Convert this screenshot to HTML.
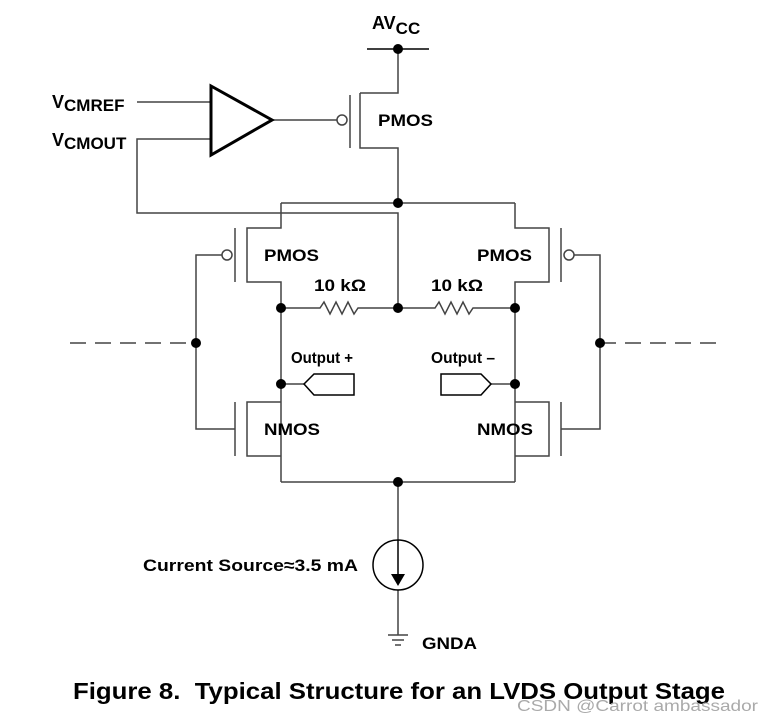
<!DOCTYPE html>
<html><head><style>
body{margin:0;background:#fff;width:774px;height:722px;overflow:hidden}
svg{display:block}
text{font-family:"Liberation Sans",Arial,sans-serif;font-weight:bold;fill:#000}
</style></head><body>
<svg width="774" height="722" viewBox="0 0 774 722">
<g stroke="#444" stroke-width="1.5" fill="none">
<line x1="367" y1="49" x2="429" y2="49" stroke="#000"/>
<polyline points="398,49 398,93 360,93"/>
<polyline points="360,93 360,148 398,148 398,203"/>
<line x1="350" y1="95" x2="350" y2="148"/>
<line x1="272" y1="120" x2="337" y2="120"/>
<line x1="137" y1="102" x2="211" y2="102"/>
<polyline points="211,139 137,139 137,213 398,213 398,308"/>
<line x1="281" y1="203" x2="515" y2="203"/>
<polyline points="281,203 281,228 247,228 247,282 281,282 281,482"/>
<line x1="235" y1="228" x2="235" y2="282"/>
<polyline points="222,255 196,255 196,429 235,429"/>
<polyline points="281,402 247,402 247,456 281,456"/>
<line x1="235" y1="402" x2="235" y2="456"/>
<polyline points="515,203 515,228 549,228 549,282 515,282 515,482"/>
<line x1="561" y1="228" x2="561" y2="282"/>
<polyline points="574,255 600,255 600,429 561,429"/>
<polyline points="515,402 549,402 549,456 515,456"/>
<line x1="561" y1="402" x2="561" y2="456"/>
<line x1="281" y1="482" x2="515" y2="482"/>
<line x1="398" y1="482" x2="398" y2="635"/>
<polyline points="281,308 320,308 324,302 330,314 336,302 342,314 348,302 354,314 358,308 398,308"/>
<polyline points="398,308 435,308 439,302 445,314 451,302 457,314 463,302 469,314 473,308 515,308"/>
<polyline points="281,384 304,384"/>
<polygon points="304,384 314,374 354,374 354,395 314,395" stroke="#000"/>
<polyline points="491,384 515,384"/>
<polygon points="441,374 481,374 491,384 481,395 441,395" stroke="#000"/>
<line x1="70" y1="343" x2="196" y2="343" stroke-dasharray="16,9"/>
<line x1="600" y1="343" x2="725" y2="343" stroke-dasharray="16,9"/>
<circle cx="342" cy="120" r="5" fill="#fff"/>
<circle cx="227" cy="255" r="5" fill="#fff"/>
<circle cx="569" cy="255" r="5" fill="#fff"/>
<circle cx="398" cy="565" r="25" fill="#fff" stroke="#000"/>
<line x1="398" y1="540" x2="398" y2="575" stroke="#000"/>
<line x1="388" y1="635" x2="408" y2="635"/>
<line x1="392" y1="640" x2="404" y2="640"/>
<line x1="395" y1="645" x2="401" y2="645"/>
</g>
<polygon points="211,86 211,155 272,120" fill="none" stroke="#000" stroke-width="3"/>
<polygon points="391,574 405,574 398,586" fill="#000"/>
<g fill="#000">
<circle cx="398" cy="49" r="5"/><circle cx="398" cy="203" r="5"/>
<circle cx="281" cy="308" r="5"/><circle cx="398" cy="308" r="5"/><circle cx="515" cy="308" r="5"/>
<circle cx="196" cy="343" r="5"/><circle cx="600" cy="343" r="5"/>
<circle cx="281" cy="384" r="5"/><circle cx="515" cy="384" r="5"/>
<circle cx="398" cy="482" r="5"/>
</g>
<text x="372" y="29" font-size="18">AV<tspan font-size="17" dy="5">CC</tspan></text>
<text x="52" y="108" font-size="18">V<tspan font-size="17" dy="3">CMREF</tspan></text>
<text x="52" y="146" font-size="18">V<tspan font-size="17" dy="3">CMOUT</tspan></text>
<text x="378" y="126" font-size="17" textLength="55" lengthAdjust="spacingAndGlyphs">PMOS</text>
<text x="264" y="261" font-size="17" textLength="55" lengthAdjust="spacingAndGlyphs">PMOS</text>
<text x="477" y="261" font-size="17" textLength="55" lengthAdjust="spacingAndGlyphs">PMOS</text>
<text x="264" y="435" font-size="17" textLength="56" lengthAdjust="spacingAndGlyphs">NMOS</text>
<text x="477" y="435" font-size="17" textLength="56" lengthAdjust="spacingAndGlyphs">NMOS</text>
<text x="314" y="291" font-size="17" textLength="52" lengthAdjust="spacingAndGlyphs">10 kΩ</text>
<text x="431" y="291" font-size="17" textLength="52" lengthAdjust="spacingAndGlyphs">10 kΩ</text>
<text x="291" y="363" font-size="16" textLength="62" lengthAdjust="spacingAndGlyphs">Output +</text>
<text x="431" y="363" font-size="16" textLength="64" lengthAdjust="spacingAndGlyphs">Output –</text>
<text x="143" y="571" font-size="17" textLength="215" lengthAdjust="spacingAndGlyphs">Current Source≈3.5 mA</text>
<text x="422" y="649" font-size="17" textLength="55" lengthAdjust="spacingAndGlyphs">GNDA</text>
<text x="73" y="699" font-size="23" textLength="652" lengthAdjust="spacingAndGlyphs" xml:space="preserve">Figure 8.  Typical Structure for an LVDS Output Stage</text>
<text x="517" y="711" font-size="16" textLength="241" lengthAdjust="spacingAndGlyphs" style="fill:#aaa;font-weight:normal">CSDN @Carrot ambassador</text>
</svg>
</body></html>
